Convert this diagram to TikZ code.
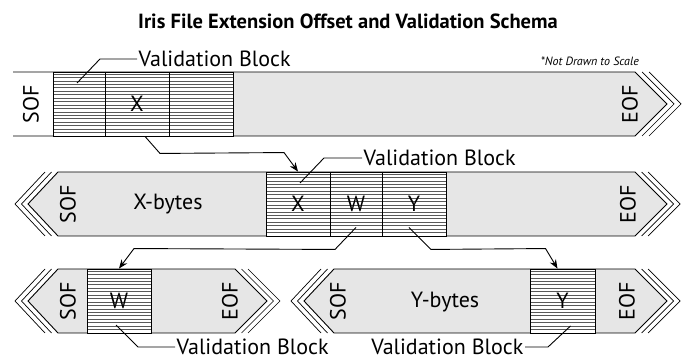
\documentclass[tikz,border=0pt]{standalone}
\usepackage{fontspec}
\setmainfont{PT Sans}
\usetikzlibrary{arrows.meta,calc}

\definecolor{bodygray}{HTML}{E6E6E6}

\begin{document}
\begin{tikzpicture}[x=1pt, y=-1pt,
    body/.style={fill=bodygray, draw=black, line width=0.9pt},
    chev/.style={draw=black, line width=0.7pt},
    cell/.style={draw=black, fill=white, line width=0.9pt, inner sep=0pt, minimum height=64pt,
        path picture={\foreach \k in {1,...,18} \draw[gray!70!black, line width=0.5pt]
            ([yshift=\k*3.45pt]path picture bounding box.south west) -- ([yshift=\k*3.45pt]path picture bounding box.south east);}},
    txt/.style={font=\fontsize{22}{24}\selectfont, inner sep=1.5pt},
    endtxt/.style={txt, rotate=90},
    leader/.style={draw=black, line width=0.9pt},
    jump/.style={draw=black, line width=0.9pt, -{Stealth[length=9pt, width=7pt]}}]
\useasboundingbox (0,0) rectangle (691,363);

% title
\node[font=\bfseries\fontsize{20.5}{24}\selectfont] (title) at (348,21) {Iris File Extension Offset and Validation Schema};
\node[font=\itshape\fontsize{12}{14}\selectfont, anchor=east, inner sep=0pt] (note) at (639,61) {*Not Drawn to Scale};

% file 1
\fill[bodygray] (233,72) -- (635,72) -- (667,104) -- (635,136) -- (233,136) -- cycle;
\draw[line width=0.9pt] (13,72) -- (635,72) -- (667,104) -- (635,136) -- (13,136);
\foreach \d in {7,14} \draw[chev] (635+\d,72) -- (667+\d,104) -- (635+\d,136);
\node[cell, minimum width=52pt] (a1) at (79,104) {};
\node[cell, minimum width=64pt, txt] (a2) at (137,104) {X};
\node[cell, minimum width=64pt] (a3) at (201,104) {};
\node[endtxt] (sof1) at (31,104) {SOF};
\node[endtxt] (eof1) at (630,104) {EOF};

% file 2
\draw[body] (28,204) -- (58,172) -- (635,172) -- (667,204) -- (635,236) -- (58,236) -- cycle;
\foreach \d in {6.5,13} \draw[chev] (58-\d,172) -- (28-\d,204) -- (58-\d,236);
\foreach \d in {6.5,13} \draw[chev] (635+\d,172) -- (667+\d,204) -- (635+\d,236);
\node[cell, minimum width=64pt, txt] (b1) at (298,204) {X};
\node[cell, minimum width=52pt, txt] (b2) at (356,204) {W};
\node[cell, minimum width=64pt, txt] (b3) at (414,204) {Y};
\node[endtxt] (sof2) at (68,204) {SOF};
\node[txt] (xbytes) at (168,204) {X-bytes};
\node[endtxt] (eof2) at (628,204) {EOF};

% file 3
\draw[body] (28,301) -- (58,269) -- (235,269) -- (267,301) -- (235,333) -- (58,333) -- cycle;
\foreach \d in {6.5,13} \draw[chev] (58-\d,269) -- (28-\d,301) -- (58-\d,333);
\foreach \d in {6.5,13} \draw[chev] (235+\d,269) -- (267+\d,301) -- (235+\d,333);
\node[cell, minimum width=64pt, txt] (c1) at (119,301) {W};
\node[endtxt] (sof3) at (68,301) {SOF};
\node[endtxt] (eof3) at (230,301) {EOF};

% file 4
\draw[body] (304,301) -- (334,269) -- (635,269) -- (667,301) -- (635,333) -- (334,333) -- cycle;
\foreach \d in {6.5,13} \draw[chev] (334-\d,269) -- (304-\d,301) -- (334-\d,333);
\foreach \d in {6.5,13} \draw[chev] (635+\d,269) -- (667+\d,301) -- (635+\d,333);
\node[cell, minimum width=65pt, txt] (d1) at (562.5,301) {Y};
\node[endtxt] (sof4) at (338,301) {SOF};
\node[txt] (ybytes) at (445,302) {Y-bytes};
\node[endtxt] (eof4) at (627,301) {EOF};

% labels
\node[txt, anchor=west] (vb1) at (137,59) {Validation Block};
\node[txt, anchor=west] (vb2) at (362,158) {Validation Block};
\node[txt, anchor=west] (vb3) at (175,347) {Validation Block};
\node[txt, anchor=east] (vb4) at (525,347) {Validation Block};
\draw[leader] (vb1.west) -- ++(-37,0) -- ($(a1)+(-2,-21)$);
\draw[leader] (vb2.west) -- ++(-38,0) -- ($(b1)+(2,-21)$);
\draw[leader] (vb3.west) -- ++(-37,0) -- ($(c1)+(-3,24)$);
\draw[leader] (vb4.east) -- ++(23,0) -- ($(d1)+(8,25)$);

% offsets
\draw[jump] ([xshift=8pt]a2.south) -- ++(15,17) -- ($(b1.north)+(-14,-19)$) -- (b1.north);
\draw[jump] ([yshift=9pt]b2.south) -- ++(-21,22) -- ($(c1.north)+(15,-20)$) -- (c1.north);
\draw[jump] ([xshift=-5pt,yshift=9pt]b3.south) -- ++(22,22) -- ($(d1.north)+(-17,-20)$) -- ([xshift=-5pt]d1.north);
\end{tikzpicture}
\end{document}
